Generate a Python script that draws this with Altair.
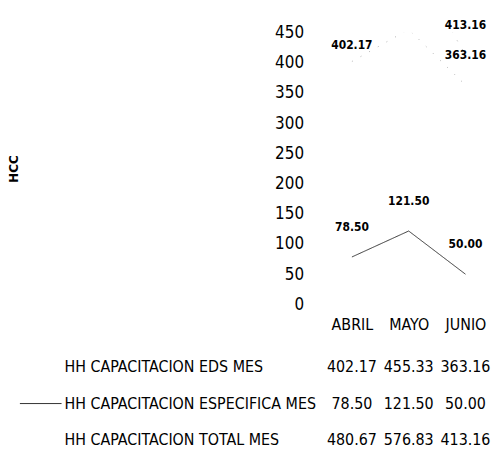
import altair as alt
import pandas as pd

months = ["ABRIL", "MAYO", "JUNIO"]
series_names = [
    "HH CAPACITACION EDS MES",
    "HH CAPACITACION ESPECIFICA MES",
    "HH CAPACITACION TOTAL MES",
]
eds = [402.17, 455.33, 363.16]
especifica = [78.50, 121.50, 50.00]
total = [480.67, 576.83, 413.16]
y_ticks = [0, 50, 100, 150, 200, 250, 300, 350, 400, 450]

rows = []
for name, vals in zip(series_names, [eds, especifica, total]):
    for m, v in zip(months, vals):
        rows.append({"serie": name, "mes": m, "valor": v, "etiqueta": f"{v:.2f}"})
df = pd.DataFrame(rows)
names_df = pd.DataFrame({"serie": series_names})

FONT = "Liberation Sans Narrow, DejaVu Sans Condensed, Arial Narrow, sans-serif"

x_enc = alt.X(
    "mes:N",
    sort=months,
    scale=alt.Scale(type="point", domain=months, padding=0.45),
    axis=alt.Axis(title=None, labelAngle=0, domain=False, ticks=False,
                  labelPadding=12, labelFontSize=16, labelFont=FONT,
                  labelColor="#000000"),
)
y_enc = alt.Y(
    "valor:Q",
    scale=alt.Scale(domain=[0, 450], nice=False, zero=True),
    axis=alt.Axis(values=y_ticks, tickCount=10, grid=False, domain=False, ticks=False,
                  labelOverlap=False, labelPadding=23, labelFontSize=17,
                  labelFont=FONT, labelColor="#000000", labelFlush=False,
                  title="HCC", titleFont="DejaVu Sans",
                  titleFontWeight="bold", titleFontSize=12, titleColor="#000000",
                  titleX=-315, titleY=137, titleAngle=270, titleAlign="center",
                  titleBaseline="middle"),
)

base = alt.Chart(df)

lines = base.mark_line(clip=True, strokeWidth=1).encode(
    x=x_enc,
    y=y_enc,
    color=alt.Color("serie:N", scale=alt.Scale(domain=series_names,
                    range=["#b0b0b0", "#333333", "#b0b0b0"]), legend=None),
    strokeDash=alt.StrokeDash("serie:N", scale=alt.Scale(domain=series_names,
                    range=[[1, 9], [1, 0], [1, 9]]), legend=None),
    detail="serie:N",
)

labels_main = base.transform_filter(
    "datum.valor <= 450 && !(datum.mes == 'ABRIL' && datum.serie == 'HH CAPACITACION EDS MES')"
).mark_text(dy=-30, fontSize=12, fontWeight="bold", font=FONT, color="#000000").encode(
    x=x_enc, y=y_enc, text="etiqueta:N"
)
labels_abril = base.transform_filter(
    "datum.mes == 'ABRIL' && datum.serie == 'HH CAPACITACION EDS MES'"
).mark_text(dy=-17, fontSize=12, fontWeight="bold", font=FONT, color="#000000").encode(
    x=x_enc, y=y_enc, text="etiqueta:N"
)

row_scale = alt.Scale(type="point", domain=series_names, range=[337, 411], padding=0)

table_vals = base.mark_text(fontSize=16, font=FONT, color="#000000").encode(
    x=x_enc,
    y=alt.Y("serie:N", scale=row_scale, axis=None),
    text="etiqueta:N",
)

table_names = alt.Chart(names_df).mark_text(
    align="left", fontSize=16, font=FONT, color="#000000"
).encode(
    x=alt.value(-264),
    y=alt.Y("serie:N", scale=row_scale, axis=None),
    text="serie:N",
)

legend_rule = alt.Chart(names_df).transform_filter(
    "datum.serie == 'HH CAPACITACION ESPECIFICA MES'"
).mark_rule(color="#333333", strokeWidth=1).encode(
    x=alt.value(-309),
    x2=alt.value(-267),
    y=alt.Y("serie:N", scale=row_scale, axis=None),
)

top = alt.layer(lines, labels_main, labels_abril)
bottom = alt.layer(table_vals, table_names, legend_rule)

chart = alt.layer(top, bottom).resolve_scale(y="independent").properties(
    width=166, height=274,
    padding={"left": 0, "top": 9, "right": 0, "bottom": 0},
    background="#ffffff",
).configure_view(strokeWidth=0).configure_axisY(labelOverlap=False)

chart.save("out.html", embed_options={"renderer": "svg", "actions": False})
